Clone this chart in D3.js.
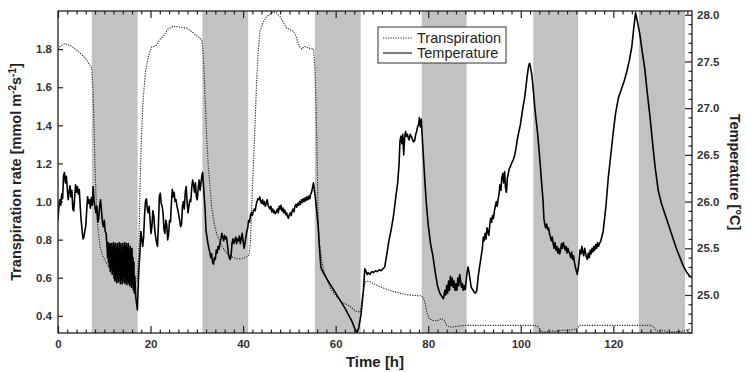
<!DOCTYPE html>
<html>
<head>
<meta charset="utf-8">
<script src="https://cdn.jsdelivr.net/npm/d3@7"></script>
<style>
  html, body { margin: 0; padding: 0; background: #fff; }
  svg { display: block; font-family: "Liberation Sans", Arial, sans-serif; }
  .tick text { font-weight: bold; font-size: 11.5px; fill: #333; }
</style>
</head>
<body>
<svg id="chart" width="746" height="372"></svg>
<script>
// Dark periods (hours) shaded in grey
const nightStart = [7.3, 31.2, 55.5, 78.6, 102.7, 125.5];
const nightEnd   = [17.2, 41.1, 65.4, 88.3, 112.4, 135.5];

// Axis ticks
const hourTicks = [0, 20, 40, 60, 80, 100, 120];
const transpirationTicks = [0.4, 0.6, 0.8, 1.0, 1.2, 1.4, 1.6, 1.8];
const temperatureTicks = [25.0, 25.5, 26.0, 26.5, 27.0, 27.5, 28.0];

// Transpiration rate [mmol m-2 s-1]: [hour, value]
const transpiration = [
  [0,1.80],[0.5,1.815],[1.5,1.83],[3,1.815],[4.75,1.78],[6,1.75],[6.9,1.715],[7.3,1.70],
  [7.6,1.57],[7.8,1.38],[8.0,1.18],[8.2,1.04],[8.4,0.94],[8.7,0.84],[9.1,0.76],[9.6,0.72],
  [10.2,0.69],[11,0.655],[12,0.63],[13,0.61],[14.1,0.59],[15,0.575],[15.6,0.567],[16.5,0.57],
  [17.1,0.58],[17.3,0.66],[17.5,0.80],[17.7,1.05],[18.0,1.32],[18.4,1.535],[18.9,1.68],
  [19.5,1.76],[20.2,1.81],[21.3,1.82],[22.0,1.85],[22.8,1.87],[23.8,1.905],[24.9,1.92],
  [26.5,1.915],[27.8,1.91],[29,1.89],[30,1.87],[31.05,1.85],[31.3,1.80],[31.6,1.66],
  [31.8,1.535],[32.1,1.35],[32.5,1.18],[33.2,0.97],[33.8,0.88],[34.3,0.83],[35.3,0.77],
  [36.4,0.73],[37.5,0.71],[38.6,0.70],[39.8,0.70],[40.8,0.71],[41.3,0.72],[41.6,0.80],
  [41.9,1.00],[42.2,1.18],[42.6,1.42],[42.9,1.62],[43.3,1.80],[43.6,1.89],[44.3,1.94],
  [45.1,1.97],[46.5,1.995],[47.2,1.99],[48,1.97],[48.7,1.94],[49.4,1.91],[50.8,1.895],
  [51.4,1.87],[51.9,1.83],[52.3,1.81],[52.7,1.80],[53.2,1.815],[53.7,1.81],[54.3,1.805],
  [55.2,1.80],[55.5,1.71],[55.7,1.55],[55.9,1.36],[56.2,0.92],[56.5,0.78],[57,0.69],
  [57.5,0.63],[58.1,0.59],[59,0.54],[60.2,0.50],[61.5,0.47],[63.1,0.45],[64.2,0.425],
  [65.3,0.42],[65.8,0.50],[66.3,0.575],[66.7,0.583],[67.4,0.58],[68.5,0.565],[69.9,0.55],
  [71.3,0.537],[72.8,0.526],[74,0.518],[75.7,0.51],[77,0.507],[78.6,0.505],[79.0,0.49],
  [79.3,0.47],[79.7,0.42],[80.2,0.386],[81,0.376],[81.5,0.374],[82.2,0.377],[82.9,0.386],
  [83.4,0.38],[84,0.35],[84.7,0.34],[85.4,0.342],[86.1,0.345],[87,0.347],[88.3,0.35],
  [102.7,0.35],[103.5,0.348],[104.0,0.335],[104.5,0.316],[105.6,0.316],[106.5,0.322],
  [107.3,0.318],[108.4,0.322],[109.5,0.325],[110.6,0.325],[111.5,0.33],[112.1,0.33],
  [112.4,0.34],[112.6,0.35],[127.9,0.35],[128.6,0.345],[129.0,0.33],[129.4,0.32],
  [130.1,0.322],[130.8,0.325],[131.4,0.318],[131.9,0.316],[133,0.315],[134.4,0.318],
  [135.2,0.32],[135.8,0.325],[136.7,0.333]
];

// Leaf temperature [°C]: [hour, value]
const temperature = [
  [0,25.80],[0.2,25.95],[0.4,26.02],[0.6,25.96],[0.8,26.08],[1.0,26.03],[1.2,26.28],[1.4,26.31],
  [1.6,26.20],[1.8,26.27],[2.0,26.15],[2.2,26.02],[2.4,26.10],[2.6,26.17],[2.8,26.05],[3.0,26.12],
  [3.2,25.92],[3.4,25.90],[3.6,26.05],[3.8,26.18],[4.0,26.10],[4.2,26.16],[4.4,26.08],[4.6,26.13],
  [4.8,25.95],[5.0,25.80],[5.2,25.70],[5.4,25.60],[5.6,25.62],[5.8,25.68],[6.0,25.74],[6.2,25.90],
  [6.4,26.05],[6.6,25.98],[6.8,26.02],[7.0,25.93],[7.2,26.04],[7.4,25.96],[7.6,26.16],[7.8,26.00],
  [8.0,25.94],[8.2,25.88],[8.4,25.95],[8.6,25.78],[8.8,25.82],[9.0,25.95],[9.2,26.02],[9.4,25.90],
  [9.6,25.78],[9.8,25.73],[10.0,25.80],[10.2,25.68],[10.4,25.66],[10.6,25.52],[10.7,25.40],
  [10.8,25.56],[10.9,25.35],[11.0,25.50],[11.1,25.30],[11.2,25.55],[11.3,25.25],[11.4,25.54],
  [11.5,25.30],[11.6,25.55],[11.7,25.22],[11.8,25.50],[11.9,25.28],[12.0,25.56],[12.1,25.18],
  [12.2,25.52],[12.3,25.15],[12.4,25.55],[12.5,25.20],[12.6,25.50],[12.7,25.13],[12.8,25.55],
  [12.9,25.18],[13.0,25.48],[13.1,25.14],[13.2,25.56],[13.3,25.22],[13.4,25.52],[13.5,25.12],
  [13.6,25.55],[13.7,25.16],[13.8,25.45],[13.9,25.12],[14.0,25.55],[14.1,25.20],[14.2,25.50],
  [14.3,25.14],[14.4,25.56],[14.5,25.12],[14.6,25.52],[14.7,25.18],[14.8,25.55],[14.9,25.11],
  [15.0,25.50],[15.1,25.15],[15.2,25.55],[15.3,25.12],[15.4,25.45],[15.5,25.10],[15.6,25.52],
  [15.7,25.14],[15.8,25.48],[15.9,25.08],[16.0,25.50],[16.1,25.12],[16.2,25.40],[16.3,25.05],
  [16.4,25.35],[16.5,25.02],[16.6,25.20],[16.8,24.98],[17.0,24.90],[17.15,24.84],[17.3,25.05],
  [17.5,25.30],[17.7,25.45],[17.9,25.68],[18.1,25.60],[18.3,25.52],[18.5,25.62],[18.7,25.85],
  [18.9,26.00],[19.1,26.03],[19.3,25.92],[19.5,25.88],[19.7,25.95],[19.9,25.80],[20.1,25.66],
  [20.3,25.74],[20.5,25.90],[20.7,25.85],[20.9,25.70],[21.1,25.62],[21.3,25.56],[21.5,25.52],
  [21.7,25.75],[21.9,26.05],[22.1,26.09],[22.3,25.98],[22.5,25.95],[22.7,25.88],[22.9,25.70],
  [23.1,25.66],[23.3,25.80],[23.5,25.75],[23.7,25.59],[23.9,25.65],[24.1,25.80],[24.3,25.78],
  [24.5,25.98],[24.7,26.13],[24.9,26.05],[25.1,26.10],[25.3,26.00],[25.5,26.02],[25.7,25.95],
  [25.9,25.91],[26.1,25.85],[26.3,25.80],[26.5,25.73],[26.7,25.76],[26.9,25.95],[27.1,26.00],
  [27.3,25.92],[27.5,26.10],[27.7,26.16],[27.9,26.00],[28.1,25.88],[28.3,25.95],[28.5,26.02],
  [28.7,26.00],[28.9,26.15],[29.1,26.23],[29.3,26.18],[29.5,26.10],[29.7,26.20],[29.9,26.05],
  [30.1,26.02],[30.3,26.15],[30.5,26.23],[30.7,26.12],[30.9,26.20],[31.1,26.28],[31.25,26.31],
  [31.4,26.20],[31.6,26.05],[31.8,25.90],[32.0,25.68],[32.2,25.62],[32.4,25.55],[32.6,25.50],
  [32.8,25.46],[33.0,25.40],[33.2,25.44],[33.4,25.35],[33.6,25.33],[33.8,25.40],[34.0,25.38],
  [34.2,25.48],[34.4,25.45],[34.6,25.52],[34.8,25.49],[35.0,25.55],[35.2,25.60],[35.4,25.66],
  [35.6,25.62],[35.8,25.58],[36.0,25.64],[36.2,25.60],[36.4,25.62],[36.6,25.55],[36.8,25.45],
  [37.0,25.40],[37.2,25.38],[37.4,25.42],[37.6,25.55],[37.8,25.60],[38.0,25.55],[38.2,25.58],
  [38.4,25.62],[38.6,25.55],[38.8,25.60],[39.0,25.58],[39.2,25.63],[39.4,25.55],[39.6,25.60],
  [39.8,25.66],[40.0,25.58],[40.2,25.50],[40.4,25.55],[40.6,25.62],[40.8,25.68],[41.0,25.72],
  [41.2,25.80],[41.4,25.78],[41.6,25.86],[41.8,25.88],[42.0,25.85],[42.2,25.90],[42.4,25.92],
  [42.6,25.90],[42.8,25.96],[43.0,26.00],[43.2,26.03],[43.4,26.02],[43.6,26.05],[43.8,26.00],
  [44.0,25.98],[44.2,26.02],[44.4,25.97],[44.6,26.00],[44.8,25.95],[45.0,25.98],[45.2,26.02],
  [45.4,25.96],[45.6,25.94],[45.8,25.92],[46.0,25.95],[46.2,25.89],[46.4,25.92],[46.6,25.88],
  [46.8,25.90],[47.0,25.87],[47.2,25.89],[47.4,25.92],[47.6,25.88],[47.8,25.95],[48.0,25.92],
  [48.2,25.96],[48.4,25.90],[48.6,25.93],[48.8,25.88],[49.0,25.91],[49.2,25.86],[49.4,25.88],
  [49.6,25.84],[49.8,25.82],[50.0,25.86],[50.2,25.88],[50.4,25.85],[50.6,25.90],[50.8,25.92],
  [51.0,25.89],[51.2,25.95],[51.4,25.97],[51.6,25.94],[51.8,25.98],[52.0,25.96],[52.2,26.00],
  [52.4,25.97],[52.6,26.02],[52.8,25.99],[53.0,26.03],[53.2,26.00],[53.4,26.04],[53.6,26.01],
  [53.8,26.05],[54.0,26.02],[54.2,26.06],[54.4,26.03],[54.6,26.08],[54.8,26.10],[55.0,26.15],
  [55.2,26.20],[55.4,26.12],[55.6,26.05],[55.8,25.95],[56.0,25.85],[56.2,25.75],[56.5,25.50],
  [56.8,25.30],[57.0,25.27],[58.0,25.18],[60.0,25.02],[62.0,24.86],[63.5,24.72],[64.2,24.63],
  [64.6,24.60],[65.0,24.65],[65.5,24.80],[66.0,25.05],[66.3,25.28],[66.5,25.26],[66.8,25.22],
  [67.0,25.24],[67.4,25.22],[67.8,25.25],[68.2,25.24],[68.6,25.26],[69.0,25.25],[69.4,25.27],
  [69.8,25.26],[70.2,25.28],[70.6,25.30],[71.0,25.42],[71.5,25.58],[72.0,25.70],[72.5,25.85],
  [73.0,26.05],[73.4,26.20],[73.7,26.40],[73.9,26.65],[74.1,26.70],[74.3,26.62],[74.5,26.72],
  [74.7,26.50],[74.9,26.68],[75.1,26.75],[75.3,26.70],[75.5,26.72],[75.7,26.68],[75.9,26.66],
  [76.1,26.72],[76.3,26.70],[76.5,26.68],[76.7,26.65],[76.9,26.64],[77.1,26.66],[77.3,26.72],
  [77.5,26.75],[77.7,26.80],[77.9,26.82],[78.1,26.90],[78.3,26.80],[78.5,26.88],[78.7,26.70],
  [79.0,26.45],[79.3,26.20],[79.6,25.98],[80.0,25.75],[80.5,25.55],[81.0,25.42],[81.5,25.25],
  [82.0,25.10],[82.5,25.02],[83.0,24.98],[83.3,24.96],[83.6,25.05],[83.8,25.00],[84.0,25.10],
  [84.2,25.02],[84.4,25.15],[84.6,25.05],[84.8,25.20],[85.0,25.10],[85.2,25.18],[85.4,25.08],
  [85.6,25.15],[85.8,25.05],[86.0,25.12],[86.2,25.05],[86.4,25.18],[86.6,25.10],[86.8,25.22],
  [87.0,25.15],[87.2,25.08],[87.4,25.12],[87.6,25.05],[87.8,25.10],[88.0,25.06],[88.2,25.15],
  [88.4,25.24],[88.6,25.30],[88.8,25.25],[89.0,25.18],[89.3,25.08],[89.6,25.06],[89.9,25.03],
  [90.2,25.02],[90.5,25.05],[90.8,25.20],[91.1,25.30],[91.4,25.40],[91.7,25.50],[91.9,25.62],
  [92.1,25.58],[92.3,25.66],[92.5,25.60],[92.7,25.72],[92.9,25.68],[93.1,25.64],[93.3,25.75],
  [93.5,25.82],[93.7,25.78],[93.9,25.85],[94.1,25.82],[94.3,25.90],[94.5,25.95],[94.7,26.00],
  [94.9,25.95],[95.1,26.02],[95.3,26.08],[95.5,26.18],[95.7,26.12],[95.9,26.25],[96.1,26.30],
  [96.3,26.20],[96.5,26.32],[96.7,26.15],[96.9,26.10],[97.1,26.25],[97.3,26.30],[97.5,26.35],
  [97.8,26.38],[98.1,26.42],[98.4,26.45],[98.7,26.50],[99.0,26.58],[99.3,26.68],[99.6,26.75],
  [99.9,26.82],[100.2,26.92],[100.5,27.02],[100.8,27.10],[101.1,27.22],[101.4,27.35],
  [101.7,27.45],[101.9,27.48],[102.1,27.44],[102.4,27.35],[102.7,27.20],[103.0,27.02],
  [103.3,26.88],[103.6,26.75],[103.9,26.58],[104.2,26.40],[104.5,26.20],[104.8,26.02],
  [105.0,25.82],[105.2,25.75],[105.4,25.72],[105.6,25.76],[105.8,25.70],[106.0,25.72],
  [106.2,25.66],[106.4,25.62],[106.6,25.58],[106.8,25.62],[107.0,25.55],[107.2,25.50],
  [107.4,25.56],[107.6,25.48],[107.8,25.52],[108.0,25.45],[108.2,25.50],[108.4,25.44],
  [108.6,25.48],[108.8,25.55],[109.0,25.50],[109.2,25.56],[109.4,25.52],[109.6,25.48],
  [109.8,25.52],[110.0,25.45],[110.2,25.50],[110.4,25.46],[110.6,25.44],[110.8,25.40],
  [111.0,25.46],[111.2,25.38],[111.4,25.42],[111.6,25.35],[111.8,25.30],[112.0,25.26],
  [112.2,25.22],[112.4,25.28],[112.6,25.36],[112.8,25.48],[113.0,25.44],[113.2,25.52],
  [113.4,25.46],[113.6,25.42],[113.8,25.50],[114.0,25.45],[114.2,25.40],[114.4,25.38],
  [114.6,25.45],[114.8,25.40],[115.0,25.48],[115.2,25.44],[115.4,25.50],[115.6,25.46],
  [115.8,25.52],[116.0,25.48],[116.2,25.54],[116.4,25.50],[116.6,25.56],[116.8,25.52],
  [117.0,25.55],[117.3,25.58],[117.8,25.68],[118.4,25.95],[118.9,26.25],[119.5,26.52],
  [120.0,26.75],[120.5,26.95],[121.1,27.11],[121.8,27.21],[122.4,27.30],[122.9,27.39],
  [123.5,27.52],[124.0,27.66],[124.4,27.85],[124.8,28.02],[125.1,27.95],[125.7,27.80],
  [126.2,27.62],[126.8,27.42],[127.3,27.18],[127.9,26.92],[128.5,26.62],[129.0,26.38],
  [129.7,26.12],[130.4,25.98],[131.2,25.86],[132.0,25.74],[132.8,25.62],[133.6,25.50],
  [134.4,25.40],[135.2,25.30],[135.9,25.24],[136.5,25.20],[137.0,25.19]
];

const W = 746, H = 372;
const plot = { left: 58, right: 692, top: 11, bottom: 333 };

const svg = d3.select("#chart");

const x = d3.scaleLinear().domain([0, 137]).range([plot.left, plot.right]);
const yL = d3.scaleLinear().domain([0.31, 2.0]).range([plot.bottom, plot.top]);
const yR = d3.scaleLinear().domain([24.593, 28.04]).range([plot.bottom, plot.top]);

svg.append("defs").append("clipPath").attr("id", "plotClip")
  .append("rect")
  .attr("x", plot.left).attr("y", plot.top)
  .attr("width", plot.right - plot.left).attr("height", plot.bottom - plot.top);

// Night shading
svg.append("g").selectAll("rect")
  .data(nightStart.map((s, i) => [s, nightEnd[i]]))
  .join("rect")
  .attr("x", d => x(d[0]))
  .attr("y", plot.top)
  .attr("width", d => x(d[1]) - x(d[0]))
  .attr("height", plot.bottom - plot.top)
  .attr("fill", "#c2c2c2");

// Series
const lineT = d3.line().x(d => x(d[0])).y(d => yL(d[1]));
const lineTemp = d3.line().x(d => x(d[0])).y(d => yR(d[1]));

const series = svg.append("g").attr("clip-path", "url(#plotClip)");
series.append("path")
  .datum(transpiration)
  .attr("d", lineT)
  .attr("fill", "none")
  .attr("stroke", "#222")
  .attr("stroke-width", 1.1)
  .attr("stroke-dasharray", "1.2,1.3");
series.append("path")
  .datum(temperature)
  .attr("d", lineTemp)
  .attr("fill", "none")
  .attr("stroke", "#000")
  .attr("stroke-width", 1.6)
  .attr("stroke-linejoin", "round");

// Axes (ticks pointing inward)
const minorHours = d3.range(0, 137, 2).filter(h => h % 20 !== 0);
const minorTemps = d3.range(246, 281).map(v => v / 10).filter(v => Math.round(v * 10) % 5 !== 0);

function styleAxis(g) {
  g.select(".domain").remove();
  g.selectAll(".tick line").attr("stroke", "#222").attr("stroke-width", 1.2);
}

svg.append("g").attr("transform", `translate(0,${plot.bottom})`)
  .call(d3.axisBottom(x).tickValues(hourTicks).tickFormat(d3.format("d")).tickSize(-7).tickPadding(7))
  .call(styleAxis);
svg.append("g").attr("transform", `translate(0,${plot.bottom})`)
  .call(d3.axisBottom(x).tickValues(minorHours).tickFormat("").tickSize(-3.5))
  .call(styleAxis);
svg.append("g").attr("transform", `translate(0,${plot.top})`)
  .call(d3.axisTop(x).tickValues(hourTicks).tickFormat("").tickSize(-7))
  .call(styleAxis);
svg.append("g").attr("transform", `translate(0,${plot.top})`)
  .call(d3.axisTop(x).tickValues(minorHours).tickFormat("").tickSize(-3.5))
  .call(styleAxis);

svg.append("g").attr("transform", `translate(${plot.left},0)`)
  .call(d3.axisLeft(yL).tickValues(transpirationTicks).tickFormat(d3.format(".1f")).tickSize(-5).tickPadding(6))
  .call(styleAxis);

svg.append("g").attr("transform", `translate(${plot.right},0)`)
  .call(d3.axisRight(yR).tickValues(temperatureTicks).tickFormat(d3.format(".1f")).tickSize(-7).tickPadding(5))
  .call(styleAxis);
svg.append("g").attr("transform", `translate(${plot.right},0)`)
  .call(d3.axisRight(yR).tickValues(minorTemps).tickFormat("").tickSize(-3.5))
  .call(styleAxis);

// Frame
svg.append("rect")
  .attr("x", plot.left).attr("y", plot.top)
  .attr("width", plot.right - plot.left).attr("height", plot.bottom - plot.top)
  .attr("fill", "none").attr("stroke", "#222").attr("stroke-width", 1.3);

// Axis titles
svg.append("text")
  .attr("x", (plot.left + plot.right) / 2).attr("y", 367)
  .attr("text-anchor", "middle")
  .attr("font-weight", "bold").attr("font-size", 15).attr("fill", "#222")
  .text("Time [h]");

const leftTitle = svg.append("text")
  .attr("transform", `translate(21,${(plot.top + plot.bottom) / 2}) rotate(-90)`)
  .attr("text-anchor", "middle")
  .attr("font-weight", "bold").attr("font-size", 14.5).attr("fill", "#222");
leftTitle.append("tspan").text("Transpiration rate [mmol m");
leftTitle.append("tspan").attr("dy", -5).attr("font-size", 10).text("-2");
leftTitle.append("tspan").attr("dy", 5).text("s");
leftTitle.append("tspan").attr("dy", -5).attr("font-size", 10).text("-1");
leftTitle.append("tspan").attr("dy", 5).text("]");

svg.append("text")
  .attr("transform", `translate(730,${(plot.top + plot.bottom) / 2}) rotate(90)`)
  .attr("text-anchor", "middle")
  .attr("font-weight", "bold").attr("font-size", 14.5).attr("fill", "#222")
  .text("Temperature [°C]");

// Legend
const legend = svg.append("g").attr("transform", "translate(378,27)");
legend.append("rect")
  .attr("width", 128).attr("height", 36)
  .attr("fill", "#fff").attr("stroke", "#333").attr("stroke-width", 1);
const legendItems = [
  { label: "Transpiration", dash: "1.2,1.3", width: 1.1 },
  { label: "Temperature", dash: null, width: 1.2 }
];
legendItems.forEach((item, i) => {
  const yy = 11 + i * 15;
  legend.append("line")
    .attr("x1", 5).attr("x2", 34).attr("y1", yy).attr("y2", yy)
    .attr("stroke", "#222").attr("stroke-width", item.width)
    .attr("stroke-dasharray", item.dash);
  legend.append("text")
    .attr("x", 39).attr("y", yy + 5)
    .attr("font-size", 14.5).attr("fill", "#222")
    .text(item.label);
});
</script>
</body>
</html>
